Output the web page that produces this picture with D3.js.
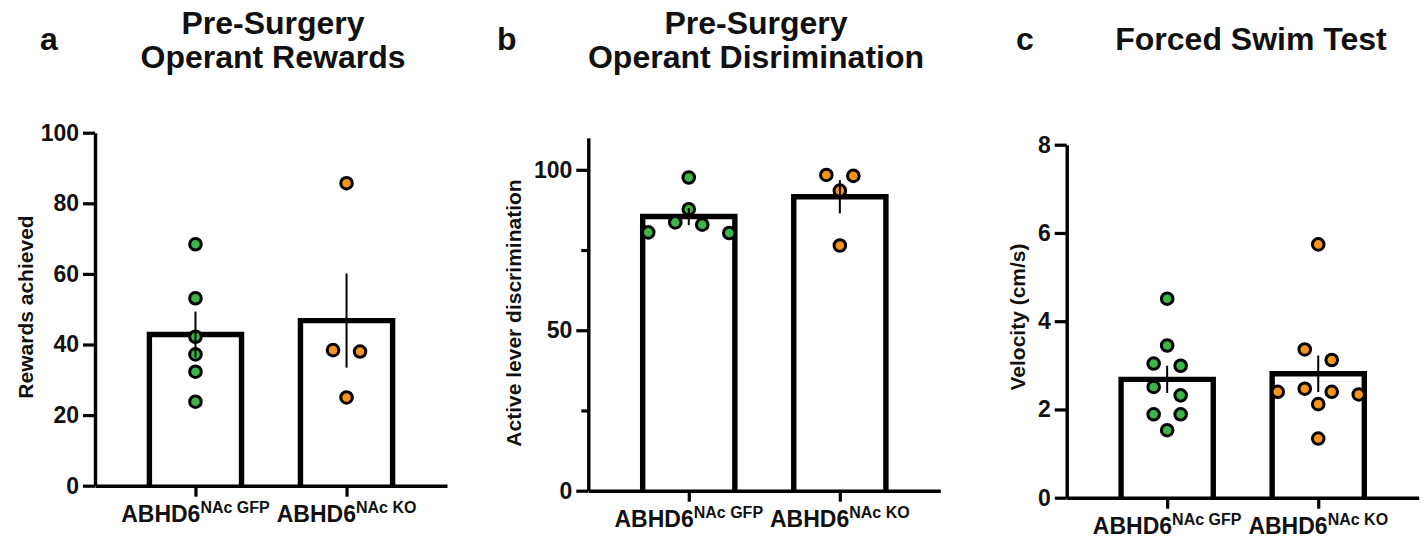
<!DOCTYPE html>
<html>
<head>
<meta charset="utf-8">
<script src="https://cdn.jsdelivr.net/npm/d3@7"></script>
<style>
  body { margin: 0; background: #fff; }
  svg { display: block; }
  text { font-family: "Liberation Sans", Arial, sans-serif; font-weight: bold; fill: #111; }
</style>
</head>
<body>
<svg id="chart" width="1427" height="538"></svg>
<script>
// groups and x labels
const groupNames = ["GFP", "KO"];
const labelBase = "ABHD6";
const labelSup = ["NAc GFP", "NAc KO"];
const groupColors = ["#39b54a", "#f7941d"];

// a - rewards achieved
const rewardsGFP = [68.4, 53.1, 42.2, 37.2, 32.3, 23.8];
const rewardsKO = [85.7, 38.4, 38.0, 25.0];
const rewardsTicks = [0, 20, 40, 60, 80, 100];

// b - active lever discrimination
const discrimGFP = [97.6, 87.7, 83.6, 82.9, 80.5, 80.3];
const discrimKO = [98.4, 98.1, 93.5, 76.4];
const discrimTicks = [0, 50, 100];
const discrimMinor = [25, 75];

// c - velocity
const velocityGFP = [4.51, 3.45, 3.04, 2.99, 2.51, 2.32, 1.89, 1.89, 1.53];
const velocityKO = [5.74, 3.36, 3.12, 2.47, 2.40, 2.40, 2.34, 2.12, 1.34];
const velocityTicks = [0, 2, 4, 6, 8];

const svg = d3.select("#chart");

drawPanel({
    letter: "a", letterX: 40,
    title: ["Pre-Surgery", "Operant Rewards"], titleX: 273, titleY: 34,
    yTitle: "Rewards achieved", yTitleX: 33, yTitleY: 307,
    left: 95, bottom: 485.7, domain: [0, 100], ticks: rewardsTicks, minor: [],
    series: [rewardsGFP, rewardsKO]
})
drawPanel({
    letter: "b", letterX: 497,
    title: ["Pre-Surgery", "Operant Disrimination"], titleX: 756, titleY: 34,
    yTitle: "Active lever discrimination", yTitleX: 521, yTitleY: 313,
    left: 588.3, bottom: 490.7, domain: [0, 110], ticks: discrimTicks, minor: discrimMinor,
    series: [discrimGFP, discrimKO]
})
drawPanel({
    letter: "c", letterX: 1016,
    title: ["Forced Swim Test"], titleX: 1251, titleY: 50,
    yTitle: "Velocity (cm/s)", yTitleX: 1025, yTitleY: 317,
    left: 1066.7, bottom: 497.7, domain: [0, 8], ticks: velocityTicks, minor: [],
    series: [velocityGFP, velocityKO]
})

// spread points that overlap vertically into symmetric columns
function swarm(vals, y, slot, minGap) {
    let sorted = vals.slice().sort((a, b) => b - a);
    let out = [];
    let group = [];
    function flush() {
        let n = group.length;
        let offs = d3.range(n).map(k => (k - (n - 1) / 2) * slot);
        offs.sort((a, b) => Math.abs(a) - Math.abs(b) || a - b);
        group.forEach((v, k) => out.push({ v: v, dx: offs[k] }));
        group = [];
    }
    sorted.forEach(v => {
        if (group.length && Math.abs(y(group[0]) - y(v)) >= minGap) flush();
        group.push(v);
    });
    flush();
    return out;
}

function drawPanel(p) {
    const plotW = 352, plotH = 353;
    const g = svg.append("g");

    const y = d3.scaleLinear().domain(p.domain).range([p.bottom, p.bottom - plotH]);
    const x = d3.scalePoint().domain(groupNames).range([p.left, p.left + plotW]).padding(0.665);
    const barW = x.step() * 0.61;

    const stats = p.series.map((vals, i) => ({
        group: groupNames[i],
        color: groupColors[i],
        vals: vals,
        mean: d3.mean(vals),
        sem: d3.deviation(vals) / Math.sqrt(vals.length)
    }));

    // bars (open at the bottom, sitting on the axis)
    g.selectAll(".bar")
        .data(stats)
        .enter()
        .append("path")
        .attr("d", d => {
            let x0 = x(d.group) - barW / 2, x1 = x(d.group) + barW / 2;
            return "M" + x0 + "," + y(0) + "V" + y(d.mean) + "H" + x1 + "V" + y(0);
        })
        .attr("fill", "#fff")
        .attr("stroke", "#000")
        .attr("stroke-width", 5.4)
        .attr("stroke-linejoin", "miter");

    // y axis
    const yAxis = g.append("g")
        .attr("transform", "translate(" + p.left + ",0)")
        .call(d3.axisLeft(y).tickValues(p.ticks).tickSize(12).tickSizeOuter(0).tickPadding(4));
    yAxis.select(".domain").attr("stroke-width", 3.4);
    yAxis.selectAll(".tick line").attr("stroke-width", 3.2);
    yAxis.selectAll(".tick text")
        .style("font-size", "23px")
        .attr("fill", "#111");

    if (p.minor.length) {
        const minorAxis = g.append("g")
            .attr("transform", "translate(" + p.left + ",0)")
            .call(d3.axisLeft(y).tickValues(p.minor).tickSize(7).tickSizeOuter(0).tickFormat(""));
        minorAxis.select(".domain").remove();
        minorAxis.selectAll(".tick line").attr("stroke-width", 3.2);
    }

    // x axis
    const xAxis = g.append("g")
        .attr("transform", "translate(0," + p.bottom + ")")
        .call(d3.axisBottom(x).tickSize(11).tickSizeOuter(0).tickFormat(""));
    xAxis.select(".domain").attr("stroke-width", 3.4);
    xAxis.selectAll(".tick line").attr("stroke-width", 3.2);

    const lab = g.selectAll(".xlab")
        .data(stats)
        .enter()
        .append("text")
        .attr("x", d => x(d.group))
        .attr("y", p.bottom + 36)
        .attr("text-anchor", "middle");
    lab.append("tspan").style("font-size", "23px").text(labelBase);
    lab.append("tspan").style("font-size", "16px").attr("dy", -9).text((d, i) => labelSup[i]);

    // dots
    stats.forEach(s => {
        const pts = swarm(s.vals, y, 27, 12.5);
        g.selectAll(null)
            .data(pts)
            .enter()
            .append("circle")
            .attr("cx", d => x(s.group) + d.dx)
            .attr("cy", d => y(d.v))
            .attr("r", 5.8)
            .attr("fill", s.color)
            .attr("stroke", "#000")
            .attr("stroke-width", 3);
    });

    // SEM error bars
    g.selectAll(".err")
        .data(stats)
        .enter()
        .append("line")
        .attr("x1", d => x(d.group))
        .attr("x2", d => x(d.group))
        .attr("y1", d => y(d.mean - d.sem))
        .attr("y2", d => y(d.mean + d.sem))
        .attr("stroke", "#000")
        .attr("stroke-width", 2);

    // y axis title
    svg.append("text")
        .attr("transform", "translate(" + p.yTitleX + "," + p.yTitleY + ") rotate(-90)")
        .attr("text-anchor", "middle")
        .style("font-size", "21px")
        .text(p.yTitle);

    // panel title and letter
    const t = svg.append("text")
        .attr("x", p.titleX)
        .attr("y", p.titleY)
        .attr("text-anchor", "middle")
        .style("font-size", "32px");
    p.title.forEach((line, i) => {
        t.append("tspan").attr("x", p.titleX).attr("dy", i == 0 ? 0 : 34).text(line);
    });

    svg.append("text")
        .attr("x", p.letterX)
        .attr("y", 50)
        .style("font-size", "32px")
        .text(p.letter);
}
</script>
</body>
</html>
